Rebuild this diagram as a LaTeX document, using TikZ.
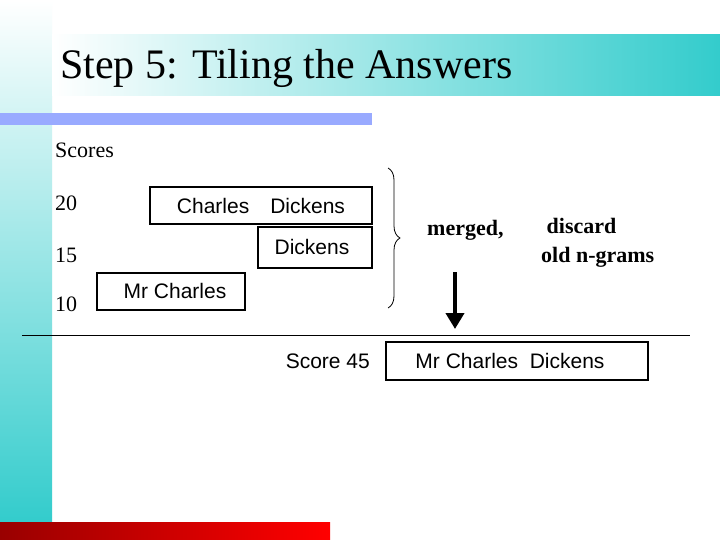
\documentclass[tikz,border=0pt]{standalone}
\usepackage{fontspec}
\setmainfont{Liberation Serif}
\setsansfont{Liberation Sans}
\usetikzlibrary{decorations.pathreplacing,arrows.meta}
\definecolor{teal1}{RGB}{51,204,204}
\definecolor{blu}{RGB}{153,170,255}
\begin{document}
\begin{tikzpicture}[x=1pt,y=-1pt,
 bx/.style={draw,line width=1.2pt,inner sep=0pt},
 tx/.style={font=\fontsize{22}{24}\selectfont,inner sep=0pt},
 sx/.style={font=\sffamily\fontsize{21}{24}\selectfont,inner sep=0pt},
 bt/.style={font=\bfseries\fontsize{22}{29}\selectfont,inner sep=0pt}]
\useasboundingbox (0,0) rectangle (720,540);
\fill[white] (0,0) rectangle (720,540);
\shade[top color=white,bottom color=teal1] (0,0) rectangle (52,522);
\fill[teal1] (0,522) rectangle (52,540);
\shade[left color=white,right color=teal1] (52,35) rectangle (720,96);
\fill[blu] (0,113) rectangle (372,125);
\shade[left color=red!60!black,right color=red] (0,522) rectangle (330,540);
\node[anchor=west,font=\fontsize{42}{44}\selectfont,inner sep=0pt] (title) at (60,68) {Step 5: Tiling the Answers};
\node[tx,anchor=west] (sc) at (55,150) {Scores};
\node[tx,anchor=west] (n20) at (55,203) {20};
\node[tx,anchor=west] (n15) at (55,255) {15};
\node[tx,anchor=west] (n10) at (55,304) {10};
\draw[bx] (150,187) rectangle (372,224);
\node[sx] (cd) at (261,206) {Charles\quad Dickens};
\draw[bx] (258,227) rectangle (372,268);
\node[sx] (d) at (312,247) {Dickens};
\draw[bx] (97,273) rectangle (245,310);
\node[sx] (mc) at (175,291) {Mr Charles};
\draw[line width=0.8pt,decorate,decoration={brace,amplitude=12pt}] (388,168) -- (388,308);
\node[bt,anchor=west] (m) at (427,230) {merged,};
\node[bt,align=left,anchor=north west] (dis) at (541,218) {\ discard\\old n-grams};
\coordinate (a1) at (455,272);
\coordinate (a2) at (455,329);
\draw[line width=4pt,-{Triangle[length=16pt,width=18pt]}] (a1) -- (a2);
\coordinate (l1) at (22,335); \coordinate (l2) at (690,335);
\draw[line width=0.8pt] (l1) -- (l2);
\node[sx,anchor=east] (s45) at (370,361) {Score 45};
\draw[bx] (386,342) rectangle (648,380);
\node[sx] (mcd) at (510,361) {Mr Charles\ \ Dickens};
\end{tikzpicture}
\end{document}
